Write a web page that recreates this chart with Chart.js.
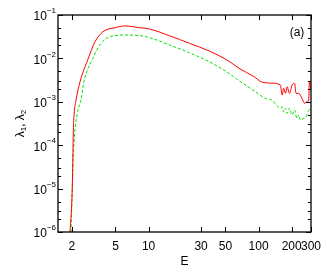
<!DOCTYPE html>
<html>
<head>
<meta charset="utf-8">
<script src="https://cdn.jsdelivr.net/npm/chart.js@4"></script>
<style>
  body { margin: 0; background: #fff; }
  #wrap { width: 327px; height: 273px; }
</style>
</head>
<body>
<div id="wrap"><canvas id="myChart"></canvas></div>
<script>
// lambda_1 (red, solid)
const e1 = [1.93, 2.02, 2.07, 2.10, 2.19, 2.38, 2.83, 3.25, 3.84, 4.95, 6.07, 8.28, 10.2, 15.5, 23.5, 35.6, 53.9, 66.5, 90.8, 107, 129, 158, 164, 169, 176, 182, 191, 202, 213, 219, 232, 248, 263, 275, 286, 290, 300];
const lambda1 = [1e-6, 9.3e-6, 2.2e-4, 5e-4, 1.1e-3, 2.9e-3, 1.0e-2, 2.4e-2, 4.1e-2, 5.1e-2, 5.6e-2, 5.1e-2, 4.75e-2, 3.33e-2, 2.23e-2, 1.48e-2, 8.6e-3, 5.9e-3, 3.8e-3, 2.86e-3, 2.7e-3, 2.44e-3, 1.43e-3, 2.05e-3, 1.57e-3, 2.23e-3, 1.57e-3, 2.44e-3, 2.67e-3, 1.57e-3, 1.57e-3, 1.2e-3, 9.2e-4, 1.0e-3, 1.1e-3, 2.9e-3, 2.0e-3];

// lambda_2 (green, dashed)
const e2 = [1.97, 2.08, 2.25, 2.43, 2.58, 3.11, 3.60, 4.44, 6.28, 8.28, 10.2, 15.5, 23.5, 35.6, 53.9, 66.5, 87, 116, 132, 158, 164, 169, 176, 182, 191, 202, 213, 223, 232, 240, 257, 270, 282, 298];
const lambda2 = [1e-6, 7.8e-5, 5.4e-4, 1.1e-3, 2.9e-3, 1.0e-2, 2.04e-2, 3.16e-2, 3.46e-2, 3.33e-2, 3.0e-2, 2.04e-2, 1.35e-2, 8.4e-3, 4.5e-3, 3.06e-3, 1.94e-3, 1.2e-3, 1.1e-3, 7.2e-4, 7.7e-4, 5.9e-4, 7.1e-4, 5.4e-4, 7.1e-4, 5.0e-4, 6.5e-4, 4.17e-4, 5.0e-4, 3.8e-4, 4.17e-4, 4.5e-4, 5.9e-4, 7.2e-4];

const xTicks = [2, 5, 10, 30, 50, 100, 200, 300];
const yTickExps = [-6, -5, -4, -3, -2, -1];
const yMinor = [2, 3, 5];

const pts = (xs, ys) => xs.map((x, i) => ({ x: x, y: ys[i] }));
const FONT = '"Liberation Sans", Arial, sans-serif';

// frame, ticks and labels drawn from the chart's own scales
const axesPlugin = {
  id: 'gnuAxes',
  afterDatasetsDraw(chart) {
    const c = chart.ctx, a = chart.chartArea;
    const xs = chart.scales.x, ys = chart.scales.y;
    c.save();
    c.strokeStyle = '#000';
    c.lineWidth = 1;
    c.beginPath();
    xTicks.forEach(v => {
      const px = Math.round(xs.getPixelForValue(v)) + 0.5;
      c.moveTo(px, a.bottom); c.lineTo(px, a.bottom - 5);
      c.moveTo(px, a.top); c.lineTo(px, a.top + 5);
    });
    yTickExps.forEach(e => {
      const py = Math.round(ys.getPixelForValue(Math.pow(10, e))) + 0.5;
      c.moveTo(a.left, py); c.lineTo(a.left + 5, py);
      c.moveTo(a.right, py); c.lineTo(a.right - 5, py);
      if (e < -1) {
        yMinor.forEach(m => {
          const my = Math.round(ys.getPixelForValue(m * Math.pow(10, e))) + 0.5;
          c.moveTo(a.left, my); c.lineTo(a.left + 3, my);
          c.moveTo(a.right, my); c.lineTo(a.right - 3, my);
        });
      }
    });
    c.stroke();
    c.lineWidth = 1.3;
    c.strokeRect(a.left, a.top, a.right - a.left, a.bottom - a.top);

    c.fillStyle = '#000';
    // x tick labels
    c.font = '12px ' + FONT;
    c.textAlign = 'center';
    c.textBaseline = 'middle';
    xTicks.forEach(v => c.fillText(String(v), xs.getPixelForValue(v), a.bottom + 15));
    // y tick labels 10^n
    yTickExps.forEach(e => {
      const py = ys.getPixelForValue(Math.pow(10, e));
      c.font = '8px ' + FONT;
      const ex = String(e).replace('-', '\u2212');
      const w = c.measureText(ex).width;
      c.textAlign = 'right';
      c.fillText(ex, a.left - 2, py - 4);
      c.font = '12px ' + FONT;
      c.fillText('10', a.left - 2 - w, py + 2);
    });
    // axis titles
    c.font = '12px ' + FONT;
    c.textAlign = 'center';
    c.fillText('E', (a.left + a.right) / 2, 262);
    c.fillText('(a)', 297, 33);

    c.translate(21, (a.top + a.bottom) / 2);
    c.rotate(-Math.PI / 2);
    const parts = [['\u03bb', 12, 0], ['1', 8, 3], [', ', 12, 0], ['\u03bb', 12, 0], ['2', 8, 3]];
    let total = 0;
    parts.forEach(p => { c.font = p[1] + 'px ' + FONT; total += c.measureText(p[0]).width; });
    let cx = -total / 2;
    c.textAlign = 'left';
    parts.forEach(p => {
      c.font = p[1] + 'px ' + FONT;
      c.fillText(p[0], cx, p[2]);
      cx += c.measureText(p[0]).width;
    });
    c.restore();
  }
};

new Chart(document.getElementById('myChart'), {
  type: 'line',
  data: {
    datasets: [{
      label: 'lambda1',
      data: pts(e1, lambda1),
      borderColor: 'rgb(255, 0, 0)',
      borderWidth: 1,
      pointRadius: 0,
      cubicInterpolationMode: 'monotone'
    }, {
      label: 'lambda2',
      data: pts(e2, lambda2),
      borderColor: 'rgb(0, 225, 0)',
      borderWidth: 1,
      borderDash: [3, 2],
      pointRadius: 0,
      cubicInterpolationMode: 'monotone'
    }]
  },
  options: {
    responsive: true,
    maintainAspectRatio: false,
    animation: false,
    layout: { padding: { left: 58, right: 16, top: 15, bottom: 41 } },
    plugins: { legend: { display: false }, tooltip: { enabled: false } },
    scales: {
      x: { type: 'logarithmic', min: 1.5, max: 300, display: false },
      y: { type: 'logarithmic', min: 1e-6, max: 1e-1, display: false }
    }
  },
  plugins: [axesPlugin]
});
</script>
</body>
</html>
